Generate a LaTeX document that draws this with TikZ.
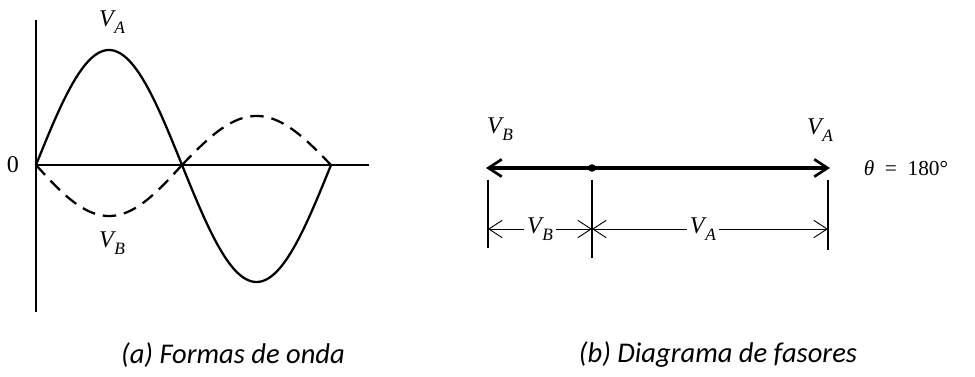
\documentclass[tikz,border=0pt]{standalone}
\usepackage{fontspec}
\setmainfont{Carlito}
\newfontfamily\tms{Liberation Serif}
\usetikzlibrary{arrows.meta}
\newcommand\vlab[1]{{\tms\itshape V\kern0.5pt\raisebox{-5pt}{\fontsize{13}{14}\selectfont #1}}}
\begin{document}
\begin{tikzpicture}[x=0.75pt,y=-0.75pt,
  axis/.style={line width=0.9pt},
  wave/.style={line width=1.7pt},
  wavedash/.style={line width=1.7pt, dash pattern=on 10pt off 6pt},
  phasor/.style={line width=2.5pt, -{Straight Barb[length=10pt,width=13pt,line width=2pt]}},
  tickline/.style={line width=0.9pt},
  dimline/.style={line width=0.7pt, {Straight Barb[length=10pt,width=13pt,line width=0.7pt]}-{Straight Barb[length=10pt,width=13pt,line width=0.7pt]}},
  lbl/.style={font=\fontsize{18}{20}\selectfont\tms, inner sep=1pt},
  captext/.style={font=\fontsize{21.4}{24}\selectfont\itshape}]
\useasboundingbox (0,0) rectangle (975,377);
% ---- (a) waveforms
\coordinate (o) at (36,165);
\coordinate (ytop) at (36,20);
\coordinate (ybot) at (36,312);
\coordinate (xend) at (369,165);
\draw[axis] (ytop) -- (ybot);
\draw[axis] (o) -- (xend);
\node[lbl] (zero) at (13,165) {0};
\draw[wave, domain=0:180, samples=60] plot ({36+\x/180*146},{165-115*sin(\x)});
\draw[wave, domain=180:360, samples=60] plot ({182+(\x-180)/180*149},{165+117*sin(\x-180)});
\draw[wavedash, domain=0:180, samples=60] plot ({36+\x/180*146},{165+51*sin(\x)});
\draw[wavedash, domain=180:360, samples=60] plot ({182+(\x-180)/180*149},{165-49*sin(\x-180)});
\node[lbl] (va1) at (112,22) {\vlab{A}};
\node[lbl] (vb1) at (112,243) {\vlab{B}};
\node[captext] (capa) at (233,355) {(a) Formas de onda};
% ---- (b) phasor diagram
\coordinate (pl) at (486,168);
\coordinate (pc) at (592,168);
\coordinate (pr) at (830,168);
\draw[phasor] (pc) -- (pl);
\draw[phasor] (pc) -- (pr);
\fill (pc) circle (3.8);
\node[lbl] (vb2) at (500,129) {\vlab{B}};
\node[lbl] (va2) at (820,130) {\vlab{A}};
\node[lbl, font=\fontsize{16}{18}\selectfont\tms] (theta) at (906,168) {\textit{θ}\ \ =\ \ 180°};
\coordinate (tl1) at (488,180); \coordinate (tl2) at (488,248);
\coordinate (tc1) at (592,180); \coordinate (tc2) at (592,258);
\coordinate (tr1) at (828,180); \coordinate (tr2) at (828,250);
\draw[tickline] (tl1) -- (tl2);
\draw[tickline] (tc1) -- (tc2);
\draw[tickline] (tr1) -- (tr2);
\coordinate (dl) at (488,229);
\coordinate (dc) at (592,229);
\coordinate (dr) at (828,229);
\draw[dimline] (dl) -- node[lbl, fill=white, inner sep=2pt] (vb3) {\vlab{B}} (dc);
\draw[dimline] (dc) -- node[lbl, fill=white, inner sep=2pt, pos=0.47] (va3) {\vlab{A}} (dr);
\node[captext] (capb) at (718,355) {(b) Diagrama de fasores};
\end{tikzpicture}
\end{document}
